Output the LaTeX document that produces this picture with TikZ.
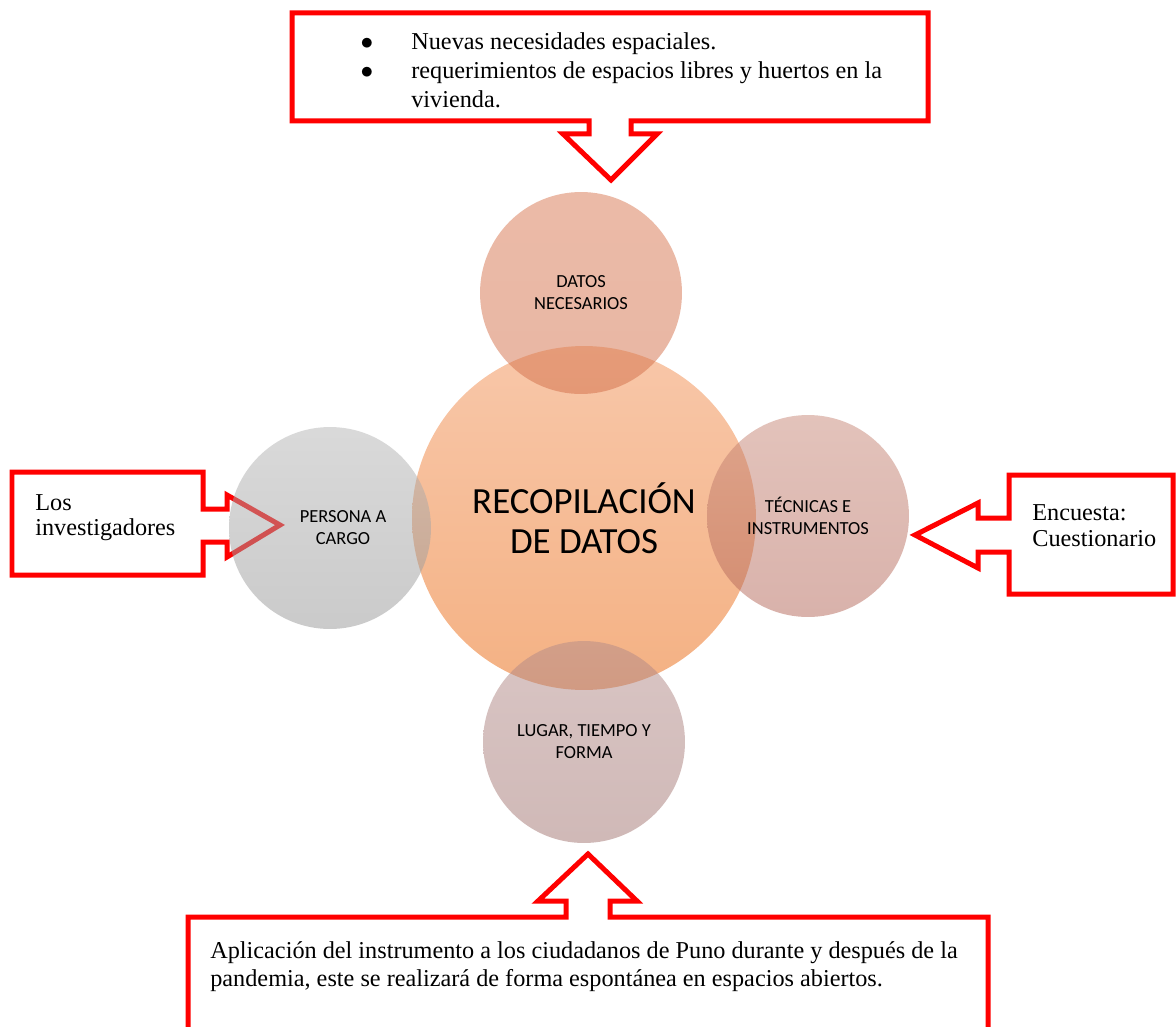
\documentclass[tikz,border=0pt]{standalone}
\usepackage{fontspec}
\setmainfont{Liberation Serif}
\newfontfamily\calibri{Carlito}
\usepackage{tikz}

\definecolor{callred}{HTML}{FF0000}

\begin{document}
\begin{tikzpicture}[x=0.02cm,y=-0.02cm,
	callout/.style={draw=callred,line width=0.1cm,line join=miter},
	txt/.style={anchor=base west,inner sep=0pt,font=\fontsize{13.8}{16}\selectfont},
	hub/.style={circle,minimum size=6.88cm,inner sep=0pt,align=center,font=\calibri\fontsize{21}{23}\selectfont},
	petal/.style={circle,minimum size=4.04cm,inner sep=0pt,fill opacity=0.5,text opacity=1,align=center,font=\calibri\fontsize{10.5}{12.5}\selectfont}]
\useasboundingbox (0,0) rectangle (1176,1027);

\draw[callout] (292,13) -- (928,13) -- (928,121) -- (631,121) -- (631,134) -- (657,134) -- (611,180) -- (563,134) -- (589,134) -- (589,121) -- (292,121) -- cycle;
\draw[callout] (188,1040) -- (188,917) -- (566,917) -- (566,901) -- (538,901) -- (588,854) -- (637,901) -- (610,901) -- (610,917) -- (988,917) -- (988,1040);
\draw[callout] (12,472) -- (203,472) -- (203,509) -- (227,509) -- (227,495) -- (280,525) -- (227,557) -- (227,542) -- (203,542) -- (203,575) -- (12,575) -- cycle;
\draw[callout] (1173,475) -- (1009,475) -- (1009,518) -- (978,518) -- (978,503) -- (915,535) -- (978,568) -- (978,552) -- (1009,552) -- (1009,594) -- (1173,594) -- cycle;

\node[txt,anchor=base] (b1) at (367,50) {$\bullet$};
\node[txt,anchor=base] (b2) at (367,79) {$\bullet$};
\node[txt] (n1) at (411,50) {Nuevas necesidades espaciales.};
\node[txt] (n2) at (411,79) {requerimientos de espacios libres y huertos en la};
\node[txt] (n3) at (411,108) {vivienda.};

\node[txt] (l1) at (35,510) {Los};
\node[txt] (l2) at (35,535) {investigadores};
\node[txt] (r1) at (1032,520) {Encuesta:};
\node[txt] (r2) at (1032,546) {Cuestionario};
\node[txt] (a1) at (210,958) {Aplicación del instrumento a los ciudadanos de Puno durante y después de la};
\node[txt] (a2) at (210,986) {pandemia, este se realizará de forma espontánea en espacios abiertos.};

\node[hub,top color={rgb,255:red,248;green,199;blue,169},bottom color={rgb,255:red,244;green,177;blue,131}] (recop) at (584,518) {RECOPILACIÓN\\DE DATOS};
\node[petal,top color={rgb,255:red,216;green,118;blue,80},bottom color={rgb,255:red,210;green,110;blue,72}] (datos) at (581,293) {DATOS\\NECESARIOS};
\node[petal,top color={rgb,255:red,180;green,180;blue,180},bottom color={rgb,255:red,150;green,150;blue,150}] (persona) at (330,528) {};
\node[align=center,font=\calibri\fontsize{10.5}{12.5}\selectfont] (personatxt) at (343,528) {PERSONA A\\CARGO};
\node[petal,top color={rgb,255:red,199;green,135;blue,119},bottom color={rgb,255:red,179;green,101;blue,87}] (tecnicas) at (808,516) {TÉCNICAS E\\INSTRUMENTOS};
\node[petal,top color={rgb,255:red,179;green,139;blue,137},bottom color={rgb,255:red,161;green,115;blue,111}] (lugar) at (584,742) {LUGAR, TIEMPO Y\\FORMA};

\end{tikzpicture}
\end{document}
